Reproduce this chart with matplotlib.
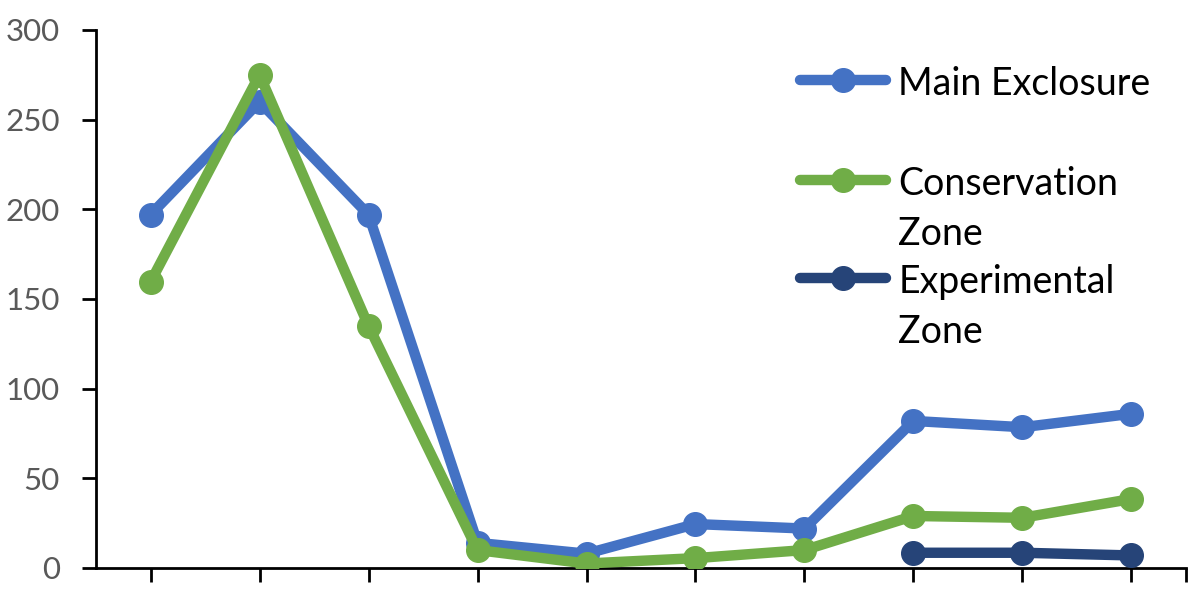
import matplotlib.pyplot as plt
import numpy as np
from matplotlib.lines import Line2D

plt.rcParams['font.family'] = ['Lato', 'DejaVu Sans']

# data (10 unlabelled categories)
categories = list(range(10))
main_exclosure = [197, 260, 197, 14, 8, 24.5, 22, 82, 78.5, 86]
conservation_zone = [159.5, 275, 135, 10, 2.5, 5.5, 10, 29, 28, 38.5]
experimental_zone = [np.nan] * 7 + [8.5, 8.5, 7]

names = [['Main Exclosure'], ['Conservation', 'Zone'], ['Experimental', 'Zone']]
colors = ['#4472C4', '#70AD47', '#264478']
series = [main_exclosure, conservation_zone, experimental_zone]

fig = plt.figure(figsize=(11.96, 6.12), dpi=100)
ax = fig.add_axes([0.0803, 0.0719, 0.9113, 0.8791])

for vals, c in zip(series, colors):
    ax.plot(categories, vals, color=c, lw=7.5, marker='o', ms=17,
            solid_capstyle='round', solid_joinstyle='round', zorder=3)

ax.set_xlim(-0.5, 9.5)
ax.set_ylim(0, 300)
ax.set_yticks(np.arange(0, 301, 50))
ax.set_xticks(list(categories) + [9.5])
ax.set_xticklabels([])

for s in ['top', 'right']:
    ax.spines[s].set_visible(False)
for s in ['left', 'bottom']:
    ax.spines[s].set_linewidth(2)
    ax.spines[s].set_color('black')
ax.tick_params(axis='both', direction='out', length=10, width=2, color='black')
ax.tick_params(axis='y', labelsize=22.5, labelcolor='#595959', pad=16)

# legend drawn by hand so the marker sits on the first line of each label
leg_y = [0.907, 0.721, 0.539]
line_gap = 0.093
for lines, c, y in zip(names, colors, leg_y):
    ax.add_line(Line2D([0.646, 0.725], [y, y], transform=ax.transAxes, color=c,
                       lw=7.5, solid_capstyle='round', clip_on=False))
    ax.add_line(Line2D([0.6855], [y], transform=ax.transAxes, color=c,
                       marker='o', ms=17, clip_on=False))
    for i, txt in enumerate(lines):
        ax.text(0.736, y - i * line_gap, txt, transform=ax.transAxes,
                fontsize=27, va='center_baseline', ha='left', color='black')

fig.savefig('out.png', dpi=100)
